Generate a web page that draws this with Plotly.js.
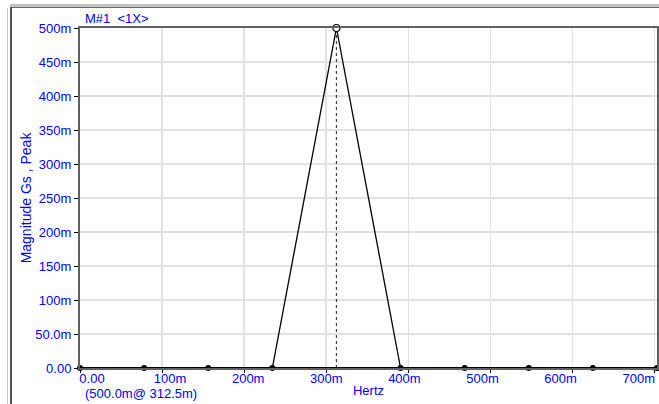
<!DOCTYPE html>
<html>
<head>
<meta charset="utf-8">
<script src="https://cdn.plot.ly/plotly-3.0.1.min.js"></script>
<style>
  html, body { margin: 0; padding: 0; background: #ffffff; }
  #wrap { position: relative; width: 659px; height: 404px; overflow: hidden; }
  #plot { position: absolute; left: 0; top: 0; width: 659px; height: 404px; }
  .frame { position: absolute; pointer-events: none; }
</style>
</head>
<body>
<div id="wrap">
  <div id="plot"></div>
  <div class="frame" style="left:10px; top:4px; width:649px; height:3px; background:#c4c4c4;"></div>
  <div class="frame" style="left:10px; top:7px; width:649px; height:1px; background:#6a6a6a;"></div>
  <div class="frame" style="left:7px; top:8px; width:1px; height:396px; background:#c8c8c8;"></div>
  <div class="frame" style="left:10px; top:7px; width:2px; height:397px; background:#505050;"></div>
</div>
<script>
// Spectrum data (Hertz, Gs peak)
const freqHz = [0, 0.078125, 0.15625, 0.234375, 0.3125, 0.390625, 0.46875, 0.546875, 0.625, 0.703125];
const magnitude = [0, 0, 0, 0, 0.5, 0, 0, 0, 0, 0];

// Marker (peak) info
const markerFreq = [0.3125];
const markerMag = [0.5];
const markerLabel = "M#1  <1X>";
const readout = "(500.0m@ 312.5m)";

// Tick labels
const yTickVals = [0, 0.05, 0.1, 0.15, 0.2, 0.25, 0.3, 0.35, 0.4, 0.45, 0.5];
const yTickText = ["0.00", "50.0m", "100m", "150m", "200m", "250m", "300m", "350m", "400m", "450m", "500m"];
const xTickVals = [0, 0.1, 0.2, 0.3, 0.4, 0.5, 0.6, 0.7];
const xTickText = ["0.00", "100m", "200m", "300m", "400m", "500m", "600m", "700m"];

const blue = "#0000ff";
const font = { family: "Arial, 'Liberation Sans', sans-serif", size: 13, color: blue };

const nonPeakX = freqHz.filter((f, i) => magnitude[i] === 0);
const nonPeakY = magnitude.filter(m => m === 0);

const traces = [
  {
    x: [markerFreq[0], markerFreq[0]], y: [0, markerMag[0]],
    mode: "lines", line: { color: "#404040", width: 1.2, dash: "3px,3px" },
    hoverinfo: "skip", showlegend: false
  },
  {
    x: freqHz, y: magnitude, mode: "lines",
    line: { color: "#000000", width: 1.3 }, showlegend: false, cliponaxis: false
  },
  {
    x: nonPeakX, y: nonPeakY, mode: "lines+markers",
    line: { color: "#000000", width: 2 },
    marker: { color: "#000000", size: 6 }, showlegend: false, cliponaxis: false
  },
  {
    x: markerFreq, y: markerMag, mode: "markers",
    marker: { color: "#ffffff", size: 7, line: { color: "#000000", width: 1.2 } },
    showlegend: false, cliponaxis: false
  },
  {
    // carrier for the tick-label axis (invisible)
    x: xTickVals, y: xTickVals.map(() => 0), xaxis: "x2", mode: "markers",
    marker: { opacity: 0, size: 1 }, hoverinfo: "skip", showlegend: false
  }
];

const layout = {
  width: 659, height: 404,
  margin: { l: 80, r: 2, t: 28, b: 36 },
  paper_bgcolor: "rgba(0,0,0,0)", plot_bgcolor: "#ffffff",
  font: font,
  showlegend: false,
  xaxis: {
    range: [0, 0.703125], tickvals: xTickVals, showticklabels: false,
    showgrid: true, gridcolor: "#e2e2e2", gridwidth: 1.5,
    zeroline: false, showline: true, linecolor: "#606060", linewidth: 2, mirror: true,
    ticks: "outside", ticklen: 3, tickcolor: "#000000"
  },
  xaxis2: {
    overlaying: "x", side: "bottom", anchor: "y",
    range: [-0.01536, 0.7234], tickvals: xTickVals, ticktext: xTickText,
    showgrid: false, zeroline: false, showline: false, ticks: "",
    tickfont: font, ticklabelstandoff: 1,
    title: { text: "Hertz", font: font, standoff: 0 }
  },
  yaxis: {
    range: [0, 0.5], tickvals: yTickVals, ticktext: yTickText,
    showgrid: true, gridcolor: "#e2e2e2", gridwidth: 1.5,
    zeroline: false, showline: true, linecolor: "#606060", linewidth: 2, mirror: true,
    ticks: "outside", ticklen: 4, tickcolor: "#000000",
    tickfont: font,
    title: { text: "Magnitude Gs , Peak", font: { family: font.family, size: 14, color: blue }, standoff: 0 }
  },
  annotations: [
    { text: markerLabel, xref: "paper", yref: "paper", x: 0.005, y: 1, xanchor: "left", yanchor: "bottom",
      yshift: 0, showarrow: false, font: font },
    { text: readout, xref: "paper", yref: "paper", x: 0.005, y: 0, xanchor: "left", yanchor: "top",
      yshift: -16, showarrow: false, font: font }
  ]
};

Plotly.newPlot("plot", traces, layout, { displayModeBar: false, staticPlot: true });
</script>
</body>
</html>
